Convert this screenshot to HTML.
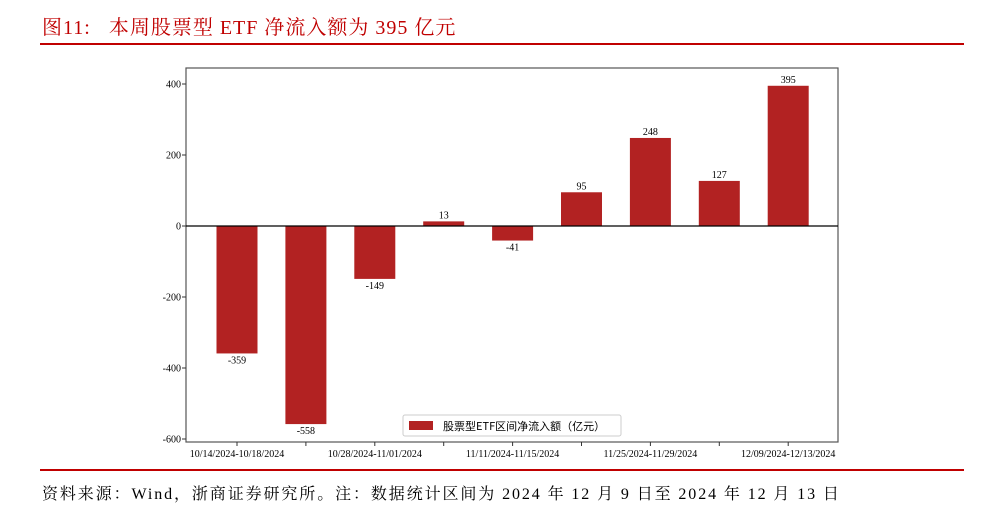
<!DOCTYPE html>
<html><head><meta charset="utf-8"><style>
body{margin:0;width:997px;height:515px;background:#fff;overflow:hidden;font-family:"Liberation Serif","Noto Serif CJK SC",serif;}
#title{position:absolute;left:42px;top:11px;font-size:20px;color:#c00000;letter-spacing:1px;white-space:pre;}
.rule{position:absolute;left:40px;width:924px;height:2px;background:#c00000;}
#src{position:absolute;left:42px;top:481px;font-size:16px;color:#000;letter-spacing:1.9px;white-space:nowrap;}
svg{position:absolute;left:0;top:0;}
</style></head><body>
<div id="title">图11:   本周股票型 ETF 净流入额为 395 亿元</div>
<div class="rule" style="top:43px"></div>
<svg id="chart" width="997" height="515"></svg>
<div class="rule" style="top:469px"></div>
<div id="src">资料来源：Wind，浙商证券研究所。注：数据统计区间为 2024 年 12 月 9 日至 2024 年 12 月 13 日</div>
<script>
const categories=["10/14/2024-10/18/2024","10/21/2024-10/25/2024","10/28/2024-11/01/2024","11/04/2024-11/08/2024","11/11/2024-11/15/2024","11/18/2024-11/22/2024","11/25/2024-11/29/2024","12/02/2024-12/06/2024","12/09/2024-12/13/2024"];
const values=[-359,-558,-149,13,-41,95,248,127,395];
const yTicks=[400,200,0,-200,-400,-600];
const NS="http://www.w3.org/2000/svg";
const svg=document.getElementById('chart');
const L=186,R=838,T=68,B=442;
const y=v=>226-v*(142/400);
const x=i=>237+i*68.9;
function mk(t,a,p){const e=document.createElementNS(NS,t);for(const k in a)e.setAttribute(k,a[k]);(p||svg).appendChild(e);return e;}
const frame=mk('rect',{x:L,y:T,width:R-L,height:B-T,fill:'none',stroke:'#555','stroke-width':1.2});


yTicks.forEach(v=>{
  const tk=mk('line',{x1:L-4,x2:L,y1:y(v),y2:y(v),stroke:'#333'});
  
  
  const t=mk('text',{x:L-5,y:y(v)+3.5,'text-anchor':'end','font-size':10,fill:'#000'});
  t.textContent=v;
  
  
});
values.forEach((v,i)=>{
  const bw=41,top=Math.min(y(v),y(0)),h=Math.abs(y(v)-y(0));
  const r=mk('rect',{x:x(i)-bw/2,y:top,width:bw,height:h,fill:'#b22222'});
  
  
  const t=mk('text',{x:x(i),y:v>=0?y(v)-3:y(v)+10,'text-anchor':'middle','font-size':10,fill:'#000'});
  t.textContent=v;
  
  
  const tk=mk('line',{x1:x(i),x2:x(i),y1:B,y2:B+4,stroke:'#333'});
  
  
  if(i%2===0){
    const c=mk('text',{x:x(i),y:B+15,'text-anchor':'middle','font-size':10,fill:'#000'});
    c.textContent=categories[i];
    
    
  }
});
const zl=mk('line',{x1:L,x2:R,y1:y(0),y2:y(0),stroke:'#000','stroke-width':1.3});


const lg=mk('g',{});


mk('rect',{x:403,y:415,width:218,height:21,rx:2,fill:'#fff',stroke:'#ccc'},lg);
mk('rect',{x:409,y:421,width:24,height:9,fill:'#b22222'},lg);
const lt=mk('text',{x:443,y:430,'font-size':11,fill:'#000','font-family':'"Noto Sans CJK SC",sans-serif'},lg);
lt.textContent='股票型ETF区间净流入额（亿元）';


</script>
</body></html>
